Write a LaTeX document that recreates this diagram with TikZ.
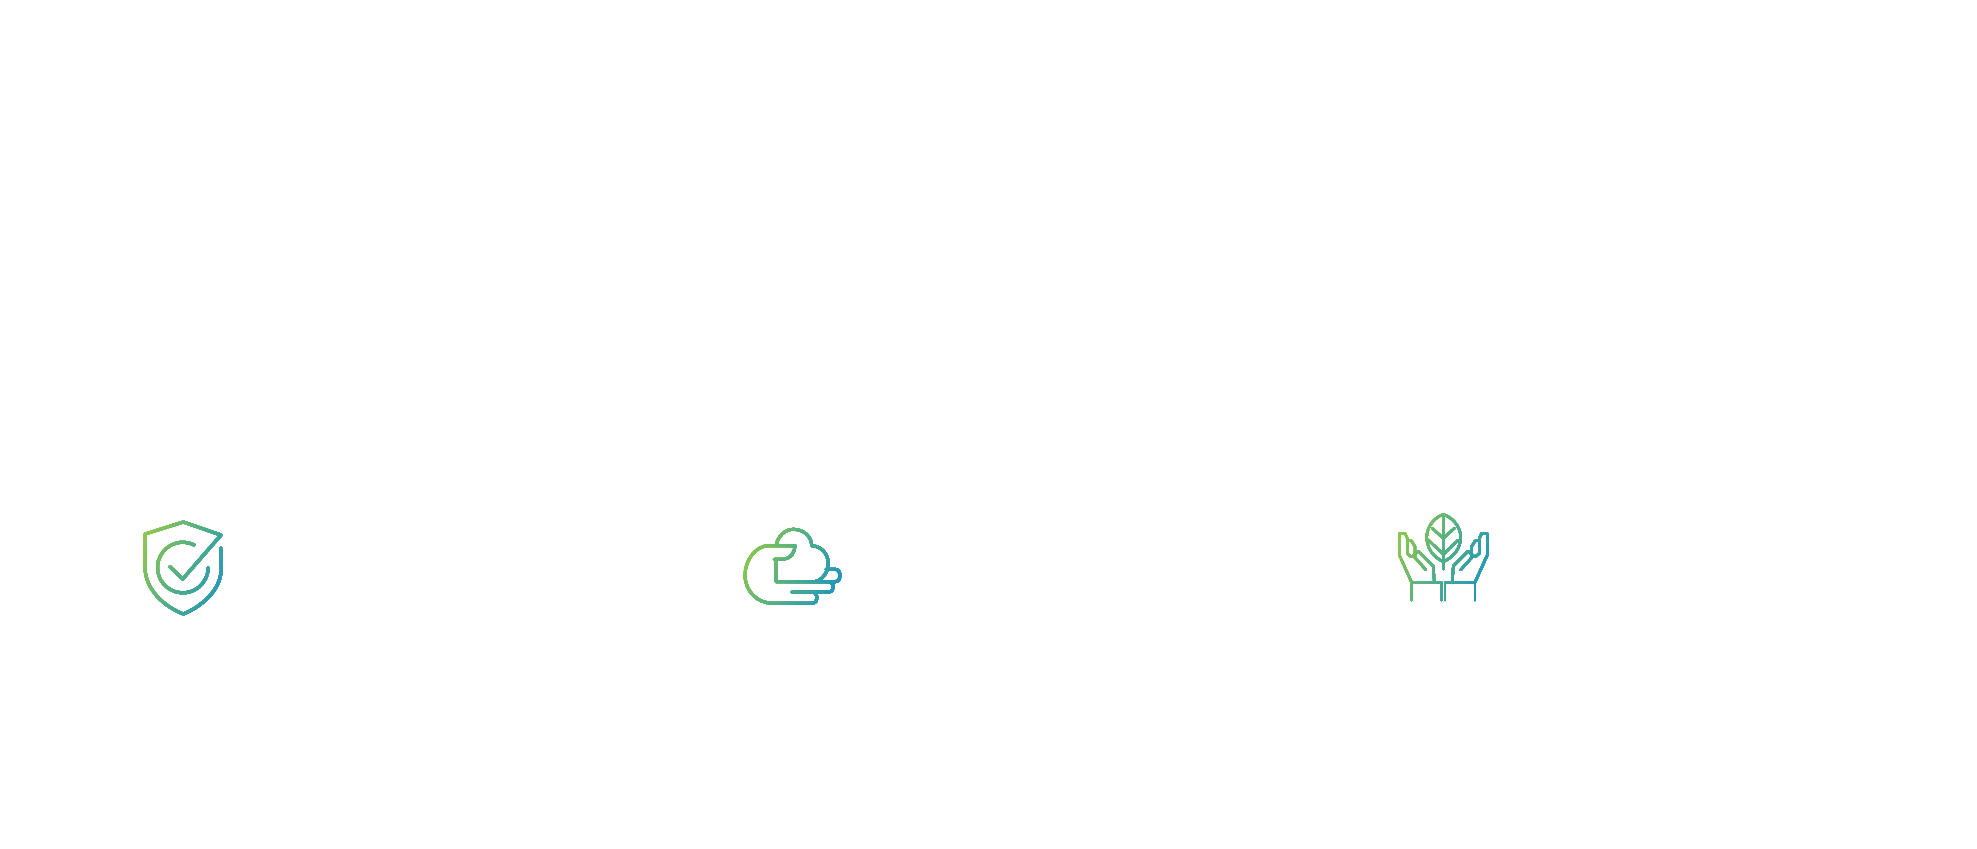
\documentclass[tikz,border=0pt]{standalone}
\definecolor{iconGreen}{HTML}{8CC850}
\definecolor{iconTeal}{HTML}{4FAE8C}
\definecolor{iconBlue}{HTML}{1F96C0}
\tikzset{
  px/.style={x=0.5pt,y=-0.5pt},
  iconline/.style={draw=stripcol,line width=#1,line cap=round,line join=round}
}
\newcommand{\gradicon}[5]{%
  \foreach \t in {0,2,...,98} {
    \pgfmathsetmacro{\tilt}{0.235*(#4-#2)}
    \pgfmathsetmacro{\edge}{#1-\tilt+\t/100*(#3-#1+2*\tilt)}
    \pgfmathsetmacro{\pos}{max(0,min(100,(\t-15)/0.7))}
    \pgfmathsetmacro{\pctA}{min(2*\pos,100)}
    \pgfmathsetmacro{\pctB}{max(2*\pos-100,0)}
    \colorlet{stripcol}{iconBlue!\pctB!iconTeal!\pctA!iconGreen}
    \begin{scope}
      \clip (\edge+\tilt,#2) -- (\edge-\tilt,#4) -- (#3+100,#4) -- (#3+100,#2) -- cycle;
      #5
    \end{scope}
  }%
}
\newcommand{\shieldicon}{%
  \draw[iconline=1.5pt] (221,548) -- (221,570) .. controls (221,590) and (201,607) .. (183.3,614)
    .. controls (165,607) and (145,590) .. (145,567) -- (145,534) -- (183.3,522) -- (221,535)
    -- (182.7,579) -- (170,566.7);
  \draw[iconline=1.5pt] (194.3,545) arc[start angle=-63,end angle=-360,radius=25.3];
}
\newcommand{\cloudicon}{%
  \draw[iconline=1.45pt] (791.7,592) -- (828.3,592) .. controls (835,592) and (835,581.7) .. (828.3,581.7)
    -- (776,581.7) -- (776,559.3) -- (774.3,559.3) -- (783,559.3)
    .. controls (790,559) and (795,553) .. (795,545.7) -- (768.3,545.7)
    .. controls (756,545.7) and (745,560) .. (745,575)
    .. controls (745,591) and (757,603.3) .. (773,603.3) -- (811.7,603.3)
    .. controls (819,603.3) and (819,592) .. (811.7,592);
  \draw[iconline=1.45pt] (776,545.7) .. controls (778,535) and (786,529.3) .. (793.3,529.3)
    .. controls (804,529.3) and (811.7,537) .. (811.7,545.7)
    .. controls (821,546) and (828.3,554) .. (828.3,563.3)
    .. controls (828.3,573) and (821,581.7) .. (813.3,581.7);
  \draw[iconline=1.45pt] (826,569.3) -- (835,569.3) .. controls (842,569.3) and (842,581.7) .. (835,581.7) -- (828.3,581.7);
}
\newcommand{\planticon}{%
  \draw[iconline=1.2pt] (1443.3,514.3) .. controls (1431,519) and (1426.7,530) .. (1426.7,537)
    .. controls (1426.7,548) and (1433,557) .. (1443.3,561.7)
    .. controls (1454,557) and (1460.7,548) .. (1460.7,537)
    .. controls (1460.7,530) and (1456,519) .. (1443.3,514.3);
  \draw[iconline=1.2pt] (1443.3,514.3) -- (1443.3,569);
  \foreach \s in {1,-1} {
    \begin{scope}[shift={(1443.3,0)},xscale=\s]
      \draw[iconline=1.2pt] (-11,528.3) -- (0,538.3) (-15,540) -- (0,554.3);
      \draw[iconline=1.2pt] (-31.7,600) -- (-31.7,582.3) -- (-1.7,582.3) -- (-1.7,600);
      \draw[iconline=1.2pt] (-31.7,582.3) -- (-44,555) -- (-44,533.3) -- (-38.3,533.3)
        -- (-36,538.3) -- (-36,553.3) -- (-32,557);
      \draw[iconline=1.2pt] (-36,540) -- (-31.7,541) -- (-28.3,546.7) -- (-28.3,557.7);
      \draw[iconline=1.2pt] (-17.3,570) -- (-30,555.7) -- (-25,551) -- (-10,566) -- (-9,582.3);
    \end{scope}
  }
}
\begin{document}
\begin{tikzpicture}[px]
  \useasboundingbox (0,0) rectangle (1977,848);%
  \gradicon{135}{510}{231}{626}{\shieldicon}%
  \gradicon{735}{518}{850}{613}{\cloudicon}%
  \gradicon{1390}{505}{1497}{605}{\planticon}%
\end{tikzpicture}
\end{document}
